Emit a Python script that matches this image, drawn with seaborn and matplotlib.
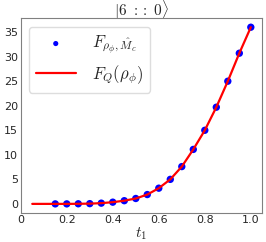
import numpy as np
import pandas as pd
import matplotlib
matplotlib.use("Agg")
import matplotlib.pyplot as plt
import seaborn as sns

# values
t_points = [0.15, 0.20, 0.25, 0.30, 0.35, 0.40, 0.45, 0.50, 0.55, 0.60,
            0.65, 0.70, 0.75, 0.80, 0.85, 0.90, 0.95, 1.00]
f_points = [0.0, 0.0, 0.02, 0.05, 0.15, 0.35, 0.65, 1.1, 1.9, 3.2,
            5.0, 7.6, 11.1, 15.0, 19.7, 25.0, 30.7, 36.0]

t_line = [0.05, 0.10, 0.15, 0.20, 0.25, 0.30, 0.35, 0.40, 0.45, 0.50, 0.55,
          0.60, 0.65, 0.70, 0.75, 0.80, 0.85, 0.90, 0.95, 1.00]
f_line = [0.0, 0.0, 0.0, 0.0, 0.02, 0.05, 0.15, 0.35, 0.65, 1.1, 1.9,
          3.2, 5.0, 7.6, 11.1, 15.0, 19.7, 25.0, 30.7, 36.0]

sns.set_style("white")
plt.rcParams["mathtext.fontset"] = "cm"
plt.rcParams["font.family"] = ["DejaVu Sans"]

pts = pd.DataFrame({"t": t_points, "F": f_points})
curve = pd.DataFrame({"t": t_line, "F": f_line})

fig = plt.figure(figsize=(2.66, 2.42), dpi=100)
ax = fig.add_axes([0.078, 0.121, 0.906, 0.803])

sns.scatterplot(data=pts, x="t", y="F", ax=ax, color="blue", s=28,
                edgecolor="none", label=r"$F_{\rho_\phi,\hat{M}_c}$", zorder=2)
sns.lineplot(data=curve, x="t", y="F", ax=ax, color="red", linewidth=1.6,
             label=r"$F_Q(\rho_\phi)$", zorder=3)

ax.set_xticks([0, 0.2, 0.4, 0.6, 0.8, 1.0])
ax.set_xticklabels(["0", "0.2", "0.4", "0.6", "0.8", "1.0"])
ax.set_yticks([0, 5, 10, 15, 20, 25, 30, 35])
ax.tick_params(labelsize=8, length=0, pad=2)
ax.set_xlabel(r"$t_1$", fontsize=11, labelpad=0)
ax.set_ylabel("")
ax.set_title(r"$|6\ ::\ 0\rangle$", fontsize=11, pad=2)
for sp in ax.spines.values():
    sp.set_color("#808080")
    sp.set_linewidth(0.8)

ax.legend(loc="upper left", fontsize=12, handlelength=2.4, borderpad=0.4,
          labelspacing=0.4, handletextpad=1.0, markerscale=0.7,
          framealpha=1, edgecolor="#dddddd")

fig.savefig("out.png", dpi=100)
plt.close(fig)
